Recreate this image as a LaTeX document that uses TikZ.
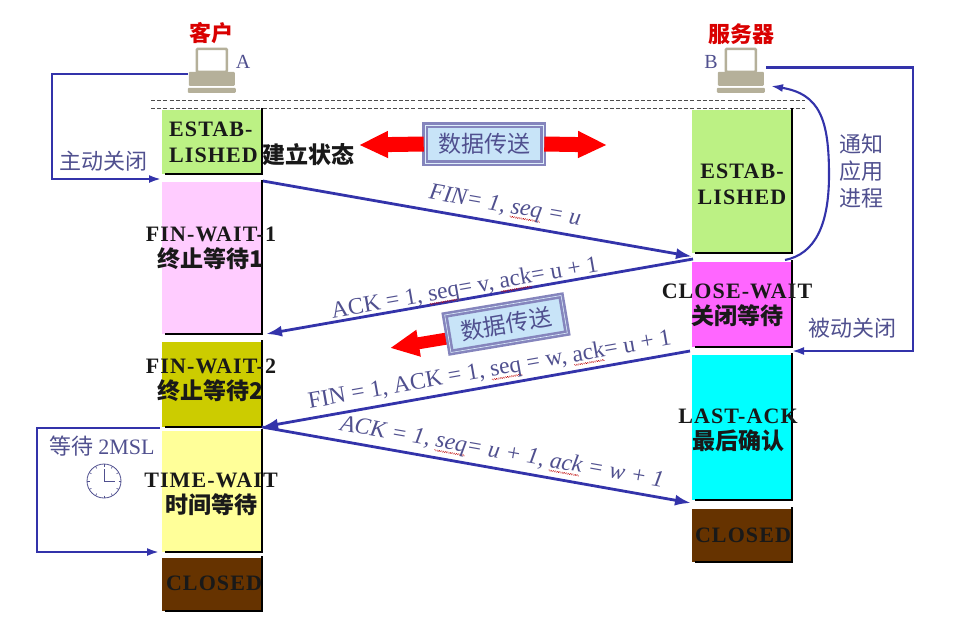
\documentclass[tikz,border=0pt]{standalone}
\usepackage{fontspec}
\usetikzlibrary{arrows.meta,calc}
\setmainfont{Liberation Serif}
\newfontfamily\stbase[LetterSpace=5]{Liberation Serif}
\newfontfamily\cjbase{Noto Sans CJK SC}
\newcommand\stf{\fontsize{22}{26}\selectfont\stbase\bfseries}
\newcommand\cjf{\fontsize{23}{28}\selectfont\cjbase\bfseries}
\newcommand\cjl{\fontsize{22}{27}\selectfont\cjbase}
\newcommand\cjr{\fontsize{22}{26}\selectfont\cjbase\bfseries}
\newsavebox\wvbox
\newcommand\wv[1]{\sbox\wvbox{#1}\leavevmode\rlap{\lower4pt\hbox to \wd\wvbox{\color{red!75!black}\leaders\hbox{\raise.9pt\hbox{\vrule width1.1pt height.6pt depth0pt}\vrule width1.1pt height.6pt depth0pt}\hfil}}\usebox\wvbox}
\definecolor{lineblue}{HTML}{3333AA}
\definecolor{labelblue}{HTML}{50508F}
\definecolor{estgreen}{HTML}{BCF184}
\definecolor{finpink}{HTML}{FFCCFF}
\definecolor{finolive}{HTML}{CCCC00}
\definecolor{timeyellow}{HTML}{FFFF99}
\definecolor{closedbrown}{HTML}{663300}
\definecolor{closemag}{HTML}{FF66FF}
\definecolor{lastcyan}{HTML}{00FFFF}
\definecolor{pcbody}{HTML}{B5B09A}
\definecolor{boxfill}{HTML}{C8E4F8}
\definecolor{boxrim}{HTML}{8585BD}
\tikzset{
  statebox/.style={anchor=north west,inner sep=0pt,outer sep=0pt,minimum width=100pt},
  statetext/.style={align=center,inner sep=0pt,text=black!90},
  seqarrow/.style={draw=lineblue,line width=2.8pt,-{Latex[length=16pt,width=11pt]}},
  looparrow/.style={draw=lineblue,line width=2.1pt,-{Latex[length=12pt,width=8pt]}},
  seqlabel/.style={text=labelblue,font=\fontsize{23.5}{26}\selectfont,inner sep=0pt},
  sidelabel/.style={text=labelblue,inner sep=0pt,align=center,font=\cjl},
  datalabel/.style={draw=boxrim,line width=2.6pt,double=boxfill!60!white,double distance=.6pt,fill=boxfill,
    text=labelblue,inner sep=0pt,minimum width=118pt,minimum height=38pt,font=\fontsize{23}{26}\selectfont\cjbase},
  redarrow/.style={draw=red,-{Triangle[length=29pt,width=25pt]}},
  dashline/.style={draw=black!70,line width=.7pt,dash pattern=on 4pt off 2.2pt},
  pcnode/.style={inner sep=0pt,minimum width=48pt,minimum height=45pt},
}
\newcommand\stateedge[1]{\draw[black,line width=2pt] ([yshift=2pt]#1.north east) -- (#1.south east) -- ([xshift=3pt]#1.south west);}
\newcommand\pcdraw[1]{%
  \fill[white,draw=pcbody,line width=2.6pt,rounded corners=1pt] ($(#1.north west)+(9,1)$) rectangle ($(#1.north west)+(39,24)$);
  \fill[pcbody,rounded corners=1pt] ($(#1.north west)+(1,24)$) rectangle ($(#1.north west)+(47,38)$);
  \fill[pcbody,rounded corners=1pt] ($(#1.north west)+(0,40)$) rectangle ($(#1.north west)+(48,45)$);
}
\begin{document}
\begin{tikzpicture}[x=1pt,y=-1pt]
\useasboundingbox[fill=white] (0,0) rectangle (971,633);
% computers
\node[pcnode] (pcA) at (212,70.5) {};
\node[pcnode] (pcB) at (741,70.5) {};
\pcdraw{pcA}
\pcdraw{pcB}
% dashed time origin
\coordinate (dashAl) at (151,100);\coordinate (dashAr) at (805,100);
\coordinate (dashBl) at (151,108);\coordinate (dashBr) at (805,108);
\draw[dashline] (dashAl) -- (dashAr);
\draw[dashline] (dashBl) -- (dashBr);
% client states
\node[statebox,fill=estgreen,minimum height=64pt] (aEst) at (162,110) {};
\node[statebox,fill=finpink,minimum height=152pt] (aFinA) at (162,182) {};
\node[statebox,fill=finolive,minimum height=85pt] (aFinB) at (162,342) {};
\node[statebox,fill=timeyellow,minimum height=121pt] (aTime) at (162,431) {};
\node[statebox,fill=closedbrown,minimum height=53pt] (aClosed) at (162,558) {};
% server states
\node[statebox,fill=estgreen,minimum height=143pt] (bEst) at (692,110) {};
\node[statebox,fill=closemag,minimum height=85pt] (bWait) at (692,262) {};
\node[statebox,fill=lastcyan,minimum height=145pt] (bLast) at (692,355) {};
\node[statebox,fill=closedbrown,minimum height=53pt] (bClosed) at (692,509) {};
\foreach \n in {aEst,aFinA,aFinB,aTime,aClosed,bEst,bWait,bLast,bClosed}{\stateedge{\n}}
% named ends
\coordinate (finFrom) at (263,181);\coordinate (finTo) at (692,256.5);
\coordinate (ackFrom) at (693,259);\coordinate (ackTo) at (266,334);
\coordinate (fin2From) at (690,351);\coordinate (fin2To) at (262,427);
\coordinate (ack2From) at (262,427);\coordinate (ack2To) at (691,503);
% sequence arrows
\draw[seqarrow] (finFrom) -- (finTo);
\draw[seqarrow] (ackFrom) -- (ackTo);
\draw[seqarrow] (fin2From) -- (fin2To);
\draw[seqarrow] (ack2From) -- (ack2To);
% loops
\coordinate (activeTo) at (161,179);
\draw[looparrow] (pcA.west |- 0,74) -| (52,179) -- (activeTo);
\coordinate (passiveTo) at (792,351);
\draw[looparrow] (766,67.5) -- (913,67.5) -- (913,351) -- (passiveTo);
\coordinate (notifyFrom) at (785,260);\coordinate (notifyTo) at (771,86);
\draw[looparrow] (notifyFrom) .. controls (815,254) and (829,225) .. (829,175) .. controls (829,120) and (820,94) .. (notifyTo);
\coordinate (waitFrom) at (160,428);\coordinate (waitTo) at (159,552);
\draw[looparrow] (waitFrom) -- (37,428) -- (37,552) -- (waitTo);
% data transfer
\node[datalabel] (dataA) at (484,144) {数据传送};
\coordinate (dataAl) at (359,145);\coordinate (dataAr) at (607,145);
\draw[redarrow,line width=15pt] (dataA.west) -- (dataAl);
\draw[redarrow,line width=15pt] (dataA.east) -- (dataAr);
\coordinate (dataBtip) at (390,348);\coordinate (dataBtail) at (450,338);
\draw[redarrow,line width=12pt] (dataBtail) -- (dataBtip);
\node[datalabel,rotate=9.5] (dataB) at (506,324) {数据传送};
% clock
\node[circle,draw=labelblue,line width=.8pt,minimum size=34pt,inner sep=0pt] (clock) at (104,481) {};
\foreach \a in {0,30,...,330}{\draw[labelblue,line width=.6pt] ($(clock)+(\a:14.5)$) -- ($(clock)+(\a:17)$);}
\draw[labelblue,line width=1pt] ($(clock)+(0,-12)$) -- (clock.center) -- ($(clock)+(11,0)$);
% state text
\node[statetext,anchor=west,align=left,font=\stf] (tEstA) at (169,142) {ESTAB-\\LISHED};
\node[statetext,anchor=west,font=\cjf] (tEstC) at (262,155) {建立状态};
\node[statetext,font=\stf] (tFinA) at (211,248) {FIN-WAIT-1\\\cjf 终止等待1};
\node[statetext,font=\stf] (tFinB) at (211,380) {FIN-WAIT-2\\\cjf 终止等待2};
\node[statetext,font=\stf] (tTime) at (211,494) {TIME-WAIT\\\cjf 时间等待};
\node[statetext,font=\stf] (tClosedA) at (214,583) {CLOSED};
\node[statetext,font=\stf] (tEstB) at (742,184) {ESTAB-\\LISHED};
\node[statetext,font=\stf] (tWait) at (737,305) {CLOSE-WAIT\\\cjf 关闭等待};
\node[statetext,font=\stf] (tLast) at (738,430) {LAST-ACK\\\cjf 最后确认};
\node[statetext,font=\stf] (tClosedB) at (743,535) {CLOSED};
% headers
\node[text=red!85!black,inner sep=0pt,font=\cjr] (hA) at (211,33) {客户};
\node[text=red!85!black,inner sep=0pt,font=\cjr] (hB) at (741,34) {服务器};
\node[text=labelblue,inner sep=0pt,font=\fontsize{20}{24}\selectfont] (lA) at (243,62) {A};
\node[text=labelblue,inner sep=0pt,font=\fontsize{20}{24}\selectfont] (lB) at (711,62) {B};
% side labels
\node[sidelabel] (sActive) at (103,161) {主动关闭};
\node[sidelabel] (sNotify) at (861,171) {通知\\应用\\进程};
\node[sidelabel] (sPassive) at (852,328) {被动关闭};
\node[sidelabel] (sWait) at (102,446) {等待 \fontsize{22}{24}\selectfont\rmfamily 2MSL};
% sequence labels
\node[seqlabel,rotate=-10] (qA) at (505,207) {\itshape FIN= 1, \wv{seq} = u};
\node[seqlabel,rotate=10] (qB) at (465,289) {ACK = 1, \wv{seq}= v, \wv{ack}= u + 1};
\node[seqlabel,rotate=10] (qC) at (490,371) {FIN = 1, ACK = 1, \wv{seq} = w, \wv{ack}= u + 1};
\node[seqlabel,rotate=-10] (qD) at (502,453) {\itshape ACK = 1, \wv{seq}= u + 1, \wv{ack} = w + 1};
\end{tikzpicture}
\end{document}
